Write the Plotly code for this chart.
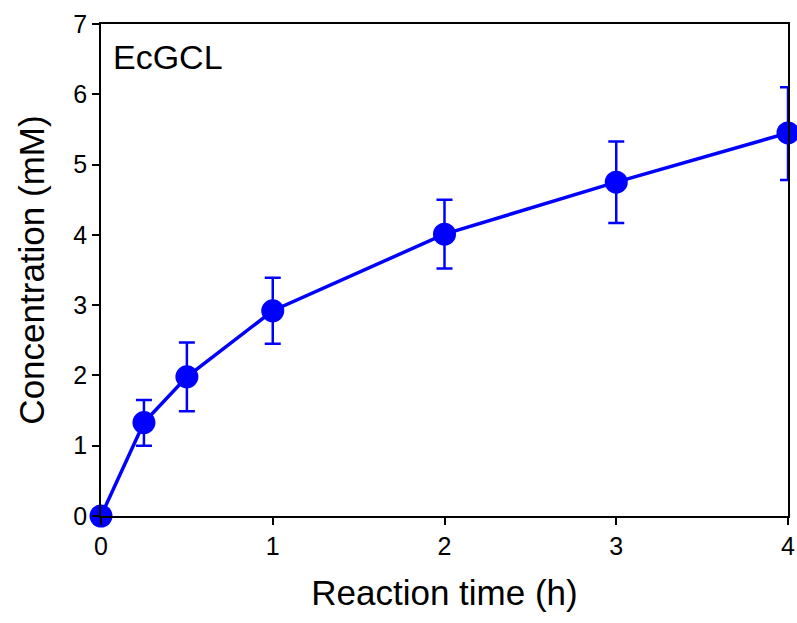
import plotly.graph_objects as go

time_h = [0, 0.25, 0.5, 1, 2, 3, 4]
conc_mM = [0, 1.33, 1.98, 2.92, 4.01, 4.75, 5.45]
err_plus = [0, 0.32, 0.49, 0.47, 0.49, 0.58, 0.65]
err_minus = [0, 0.33, 0.49, 0.47, 0.49, 0.58, 0.67]
x_ticks = [0, 1, 2, 3, 4]
y_ticks = [0, 1, 2, 3, 4, 5, 6, 7]

blue = "#0000FF"
fig = go.Figure()
fig.add_trace(go.Scatter(
    x=time_h, y=conc_mM, mode="lines+markers",
    line=dict(color=blue, width=3.5),
    marker=dict(color=blue, size=23),
    error_y=dict(type="data", symmetric=False, array=err_plus, arrayminus=err_minus,
                 color=blue, thickness=2.5, width=8),
    cliponaxis=False, showlegend=False,
))

font = "Liberation Sans, Arial, sans-serif"
axis_common = dict(showline=True, linecolor="black", linewidth=1.5, mirror=True,
                   ticks="outside", ticklen=7, tickcolor="black", tickwidth=1.5,
                   showgrid=False, zeroline=False, automargin=False,
                   tickfont=dict(family=font, size=25, color="black"))
fig.update_xaxes(range=[0, 4], tickvals=x_ticks,
                 title=dict(text="Reaction time (h)", font=dict(family=font, size=35, color="black"), standoff=22),
                 **axis_common)
fig.update_yaxes(range=[0, 7], tickvals=y_ticks,
                 title=dict(text="Concentration (mM)", font=dict(family=font, size=35, color="black"), standoff=18),
                 **axis_common)
fig.add_annotation(text="EcGCL", xref="paper", yref="paper", x=0.015, y=0.975,
                   xanchor="left", yanchor="top", showarrow=False,
                   font=dict(family=font, size=34, color="black"))
fig.update_layout(width=797, height=623, margin=dict(l=101, r=9, t=24, b=107),
                  plot_bgcolor="white", paper_bgcolor="white")
fig.write_html("out.html", config={"displayModeBar": False},
               post_script="document.body.style.margin='0';")
